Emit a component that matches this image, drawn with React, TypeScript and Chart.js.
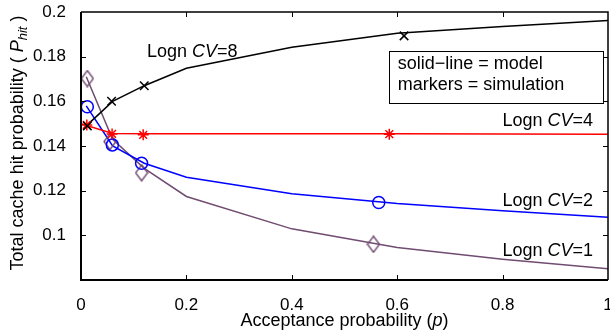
import React, { useEffect, useRef } from 'react';
import { Chart, registerables } from 'chart.js';

Chart.register(...registerables);

// ---- data ----
const pModel = [0.01, 0.06, 0.12, 0.2, 0.4, 0.6, 0.8, 1.0];
const pModelCV4 = [0.0, 0.06, 0.12, 0.2, 0.4, 0.6, 0.8, 1.0];
const modelCV8 = [0.149, 0.16, 0.167, 0.1748, 0.1842, 0.1905, 0.1935, 0.1962];
const modelCV4 = [0.15, 0.1456, 0.1455, 0.1455, 0.1455, 0.1455, 0.1454, 0.1453];
const modelCV2 = [0.158, 0.14, 0.1323, 0.126, 0.1186, 0.1142, 0.111, 0.1081];
const modelCV1 = [0.171, 0.143, 0.13, 0.1174, 0.1029, 0.0946, 0.0893, 0.085];

const simPCV8 = [0.012, 0.058, 0.12, 0.613];
const simCV8 = [0.149, 0.16, 0.167, 0.1893];
const simPCV4 = [0.011, 0.059, 0.118, 0.585];
const simCV4 = [0.1494, 0.1454, 0.145, 0.1453];
const simPCV2 = [0.012, 0.0595, 0.115, 0.565];
const simCV2 = [0.1576, 0.1405, 0.1323, 0.1147];
const simPCV1 = [0.012, 0.055, 0.115, 0.555];
const simCV1 = [0.1702, 0.142, 0.128, 0.096];

const seriesCV = ['8', '4', '2', '1'];
const xTicks = [0, 0.2, 0.4, 0.6, 0.8, 1];
const xTickLabels = ['0', '0.2', '0.4', '0.6', '0.8', '1'];
const yTicks = [0.1, 0.12, 0.14, 0.16, 0.18, 0.2];
const yTickLabels = ['0.1', '0.12', '0.14', '0.16', '0.18', '0.2'];
const legendLines = ['solid\u2212line = model', 'markers = simulation'];

const FONT = '"Liberation Sans", Arial, Helvetica, sans-serif';
const PURPLE = 'rgb(112,76,112)';

const zip = (xs: number[], ys: number[]) => xs.map((x, i) => ({ x, y: ys[i] }));

function diamondImage(color: string) {
  const c = document.createElement('canvas');
  c.width = 14;
  c.height = 18;
  const g = c.getContext('2d')!;
  g.strokeStyle = color;
  g.lineWidth = 1.4;
  g.beginPath();
  g.moveTo(7, 1);
  g.lineTo(13, 9);
  g.lineTo(7, 17);
  g.lineTo(1, 9);
  g.closePath();
  g.stroke();
  return c;
}

type Part = { t: string; italic?: boolean; size?: number; dy?: number };

function drawRich(ctx: CanvasRenderingContext2D, parts: Part[], x: number, y: number, align: 'left' | 'center' | 'right') {
  const fontOf = (p: Part) => `${p.italic ? 'italic ' : ''}${p.size || 18}px ${FONT}`;
  let total = 0;
  const widths = parts.map((p) => {
    ctx.font = fontOf(p);
    const w = ctx.measureText(p.t).width;
    total += w;
    return w;
  });
  let cx = align === 'left' ? x : align === 'center' ? x - total / 2 : x - total;
  ctx.textAlign = 'left';
  ctx.textBaseline = 'middle';
  parts.forEach((p, i) => {
    ctx.font = fontOf(p);
    ctx.fillText(p.t, cx, y + (p.dy || 0));
    cx += widths[i];
  });
}

const annotPlugin = {
  id: 'annot',
  afterDraw(chart: any) {
    const { ctx, chartArea: ca, scales } = chart;
    const x = scales.x;
    const y = scales.y;
    ctx.save();
    ctx.fillStyle = '#000';
    ctx.strokeStyle = '#000';

    // axes box
    ctx.lineWidth = 2;
    ctx.beginPath();
    ctx.moveTo(ca.left, ca.top);
    ctx.lineTo(ca.left, ca.bottom);
    ctx.lineTo(ca.right, ca.bottom);
    ctx.stroke();
    ctx.lineWidth = 1.5;
    ctx.beginPath();
    ctx.moveTo(ca.left, ca.top);
    ctx.lineTo(ca.right, ca.top);
    ctx.lineTo(ca.right, ca.bottom);
    ctx.stroke();

    // inward ticks
    ctx.lineWidth = 1;
    ctx.beginPath();
    xTicks.forEach((v) => {
      if (v === x.min || v === x.max) return;
      const px = Math.round(x.getPixelForValue(v)) + 0.5;
      ctx.moveTo(px, ca.bottom);
      ctx.lineTo(px, ca.bottom - 5);
      ctx.moveTo(px, ca.top);
      ctx.lineTo(px, ca.top + 5);
    });
    yTicks.forEach((v) => {
      if (v === y.min || v === y.max) return;
      const py = Math.round(y.getPixelForValue(v)) + 0.5;
      ctx.moveTo(ca.left, py);
      ctx.lineTo(ca.left + 5, py);
      ctx.moveTo(ca.right, py);
      ctx.lineTo(ca.right - 5, py);
    });
    ctx.stroke();

    // legend-like text box
    const bx0 = x.getPixelForValue(0.5845);
    const bx1 = x.getPixelForValue(0.9905);
    const by0 = y.getPixelForValue(0.1826);
    const by1 = y.getPixelForValue(0.1593);
    ctx.fillStyle = '#fff';
    ctx.fillRect(bx0, by0, bx1 - bx0, by1 - by0);
    ctx.lineWidth = 1;
    ctx.strokeStyle = '#000';
    ctx.strokeRect(Math.round(bx0) + 0.5, Math.round(by0) + 0.5, Math.round(bx1 - bx0), Math.round(by1 - by0));
    ctx.fillStyle = '#000';
    const tx = x.getPixelForValue(0.601);
    drawRich(ctx, [{ t: legendLines[0] }], tx, y.getPixelForValue(0.1767), 'left');
    drawRich(ctx, [{ t: legendLines[1] }], tx, y.getPixelForValue(0.1673), 'left');

    // series labels
    const lab = (cv: string): Part[] => [{ t: 'Logn ' }, { t: 'CV', italic: true }, { t: '=' + cv }];
    drawRich(ctx, lab(seriesCV[0]), x.getPixelForValue(0.125), y.getPixelForValue(0.1821), 'left');
    const rx = x.getPixelForValue(0.9715);
    drawRich(ctx, lab(seriesCV[1]), rx, y.getPixelForValue(0.1512), 'right');
    drawRich(ctx, lab(seriesCV[2]), rx, y.getPixelForValue(0.1154), 'right');
    drawRich(ctx, lab(seriesCV[3]), rx, y.getPixelForValue(0.0928), 'right');

    // x axis title
    drawRich(
      ctx,
      [{ t: 'Acceptance probability (' }, { t: 'p', italic: true }, { t: ')' }],
      (ca.left + ca.right) / 2,
      321,
      'center'
    );

    // y axis title
    ctx.translate(18, 143);
    ctx.rotate(-Math.PI / 2);
    drawRich(
      ctx,
      [
        { t: 'Total cache hit probability ( ' },
        { t: 'P', italic: true },
        { t: 'hit', italic: true, size: 13, dy: 5 },
        { t: ' )' },
      ],
      0,
      0,
      'center'
    );
    ctx.restore();
  },
};

export default function App() {
  const ref = useRef<HTMLCanvasElement | null>(null);
  useEffect(() => {
    document.body.style.margin = '0';
    const canvas = ref.current!;
    const diamond = diamondImage(PURPLE);
    const lineDs = (data: any[], color: string) => ({
      data,
      showLine: true,
      borderColor: color,
      borderWidth: 1.5,
      pointRadius: 0,
      tension: 0,
      fill: false,
    });
    const markDs = (data: any[], color: string, style: any, r: number) => ({
      data,
      showLine: false,
      borderColor: color,
      backgroundColor: 'rgba(0,0,0,0)',
      borderWidth: 1.5,
      pointStyle: style,
      pointRadius: r,
    });
    const chart = new Chart(canvas, {
      type: 'scatter',
      data: {
        datasets: [
          markDs(zip(simPCV8, simCV8), '#000', 'crossRot', 6),
          markDs(zip(simPCV4, simCV4), '#ff0000', 'star', 5.5),
          markDs(zip(simPCV2, simCV2), '#0000ff', 'circle', 6),
          markDs(zip(simPCV1, simCV1), PURPLE, diamond, 6),
          lineDs(zip(pModel, modelCV8), '#000'),
          lineDs(zip(pModelCV4, modelCV4), '#ff0000'),
          lineDs(zip(pModel, modelCV2), '#0000ff'),
          lineDs(zip(pModel, modelCV1), PURPLE),
        ] as any,
      },
      options: {
        animation: false,
        responsive: false,
        maintainAspectRatio: false,
        layout: { autoPadding: false, padding: { top: 12, right: 2, left: 0, bottom: 0 } },
        plugins: { legend: { display: false }, tooltip: { enabled: false } },
        scales: {
          x: {
            type: 'linear',
            min: 0,
            max: 1,
            grid: { display: false },
            border: { display: false },
            afterBuildTicks: (s: any) => {
              s.ticks = xTicks.map((v) => ({ value: v }));
            },
            afterFit: (s: any) => {
              s.height = 51;
              s.paddingLeft = 0;
              s.paddingRight = 0;
            },
            ticks: {
              padding: 7,
              maxRotation: 0,
              autoSkip: false,
              color: '#000',
              font: { family: FONT, size: 17 },
              callback: (v: any) => {
                const i = xTicks.findIndex((t) => Math.abs(t - v) < 1e-9);
                return i >= 0 ? xTickLabels[i] : '';
              },
            },
          },
          y: {
            type: 'linear',
            min: 0.08,
            max: 0.2,
            grid: { display: false },
            border: { display: false },
            afterBuildTicks: (s: any) => {
              s.ticks = yTicks.map((v) => ({ value: v }));
            },
            afterFit: (s: any) => {
              s.width = 81;
              s.paddingTop = 0;
              s.paddingBottom = 0;
            },
            ticks: {
              padding: 7,
              autoSkip: false,
              color: '#000',
              font: { family: FONT, size: 17 },
              callback: (v: any) => {
                const i = yTicks.findIndex((t) => Math.abs(t - v) < 1e-9);
                return i >= 0 ? yTickLabels[i] : '';
              },
            },
          },
        },
      } as any,
      plugins: [annotPlugin],
    });
    return () => chart.destroy();
  }, []);
  return (
    <div style={{ width: 610, height: 331, background: '#fff' }}>
      <canvas ref={ref} width={610} height={331} style={{ display: 'block' }} />
    </div>
  );
}
